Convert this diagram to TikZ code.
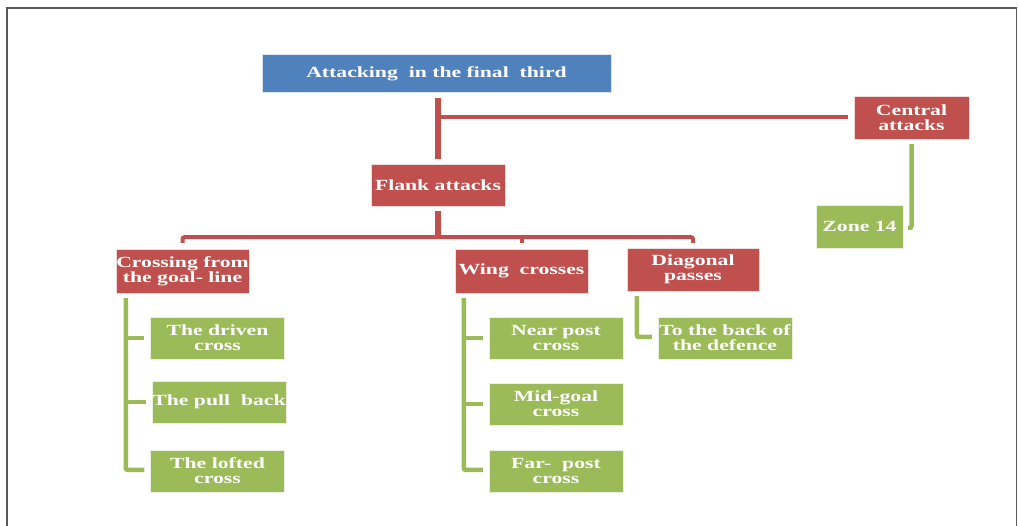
\documentclass[tikz,border=0pt]{standalone}
\usepackage{fontspec}
\newfontfamily\boxfont[FakeStretch=1.4]{Liberation Serif}
\usepackage{tikz}
\usetikzlibrary{positioning,calc}
\definecolor{accblue}{HTML}{4F81BD}
\definecolor{accred}{HTML}{C0504D}
\definecolor{accgreen}{HTML}{9BBB59}
\tikzset{
  main/.style={fill=accblue, draw=white!80!accblue, text=white, align=center, inner sep=0pt,
    font=\boxfont\bfseries\fontsize{15.5}{15}\selectfont},
  sub/.style={fill=accred, draw=white!80!accred, text=white, align=center, inner sep=0pt,
    minimum width=133pt, minimum height=43pt, font=\boxfont\bfseries\fontsize{15.5}{15}\selectfont},
  item/.style={fill=accgreen, draw=white!80!accgreen, text=white, align=center, inner sep=0pt,
    minimum width=134pt, minimum height=42pt, font=\boxfont\bfseries\fontsize{15.5}{15}\selectfont},
  link/.style={draw=accred, line width=6pt},
  thinlink/.style={draw=accred, line width=4pt, rounded corners=2pt},
  leaflink/.style={draw=accgreen, line width=4.5pt, rounded corners=2pt},
  frame/.style={draw=black!65, line width=1.5pt},
}

\begin{document}
\begin{tikzpicture}[x=1pt, y=-1pt]
  \useasboundingbox (0,0) rectangle (1018,526);
  % FRAME
  \draw[frame] (7,526) -- (7,8) -- (1016.5,8) -- (1016.5,526);

  % TOP
  \node[main, minimum width=349pt, minimum height=38pt] (top) at (436.5,73.5) {Attacking\ \ in the final\ \ third};

  % SECOND LEVEL
  \node[sub, minimum width=134pt, minimum height=42pt] (flank) at (438,185) {Flank attacks};
  \node[sub, minimum width=115pt] (central) at (911.5,117.5) {Central\\attacks};
  \node[item, minimum width=87pt, minimum height=43pt] (zone) at (859.5,226.5) {Zone 14};

  % THIRD LEVEL
  \node[sub, minimum height=44pt] (crossing) at (182.5,271) {Crossing from\\the goal-\ line};
  \node[sub, minimum height=44pt] (wing) at (521.5,271) {Wing\ \ crosses};
  \node[sub, minimum width=132pt] (diagonal) at (693,269.5) {Diagonal\\passes};

  % LEAVES
  \node[item] (driven) at (217.5,338) {The driven\\cross};
  \node[item] (pull) at (219,402) {The pull\ \ back};
  \node[item] (lofted) at (217.5,471) {The lofted\\cross};
  \node[item] (near) at (556,338) {Near post\\cross};
  \node[item] (mid) at (556,404) {Mid-goal\\cross};
  \node[item] (far) at (556,471) {Far-\ \ post\\cross};
  \node[item] (back) at (725,338) {To the back of\\the defence};

  % TRUNK
  \draw[link] ($(flank.north |- top.south)+(0,5)$) -- ($(flank.north)+(0,-5)$);
  \draw[thinlink] ($(central.west)+(-6,0)$) -- (flank.north |- central.west);

  % BAR UNDER FLANK ATTACKS
  \coordinate (bar) at ($(flank.south)+(0,31)$);
  \draw[link] ($(flank.south)+(0,5)$) -- (bar);
  \draw[thinlink] ($(crossing.north)+(0,-6)$) -- (crossing.north |- bar) -- (diagonal.north |- bar) -- ($(diagonal.north)+(0,-5)$);
  \draw[thinlink] (wing.north |- bar) -- ($(wing.north)+(0,-6)$);

  % CENTRAL TO ZONE 14
  \draw[leaflink] ($(central.south)+(0,5)$) |- ($(zone.east)+(5,1.5)$);

  % CROSSING LEAVES
  \coordinate (cb) at ($(crossing.south west)+(10,5)$);
  \draw[leaflink] (cb) |- ($(lofted.west)+(-6,-1)$);
  \draw[leaflink] (cb |- driven.west) -- ($(driven.west)+(-6,0)$);
  \draw[leaflink] (cb |- pull.west) -- ($(pull.west)+(-6,0)$);

  % WING LEAVES
  \coordinate (wb) at ($(wing.south west)+(9,5)$);
  \draw[leaflink] (wb) |- ($(far.west)+(-6,-1)$);
  \draw[leaflink] (wb |- near.west) -- ($(near.west)+(-6,0)$);
  \draw[leaflink] (wb |- mid.west) -- ($(mid.west)+(-6,0)$);

  % DIAGONAL LEAF
  \draw[leaflink] ($(diagonal.south west)+(10,5)$) |- ($(back.west)+(-6,-1)$);
\end{tikzpicture}
\end{document}
